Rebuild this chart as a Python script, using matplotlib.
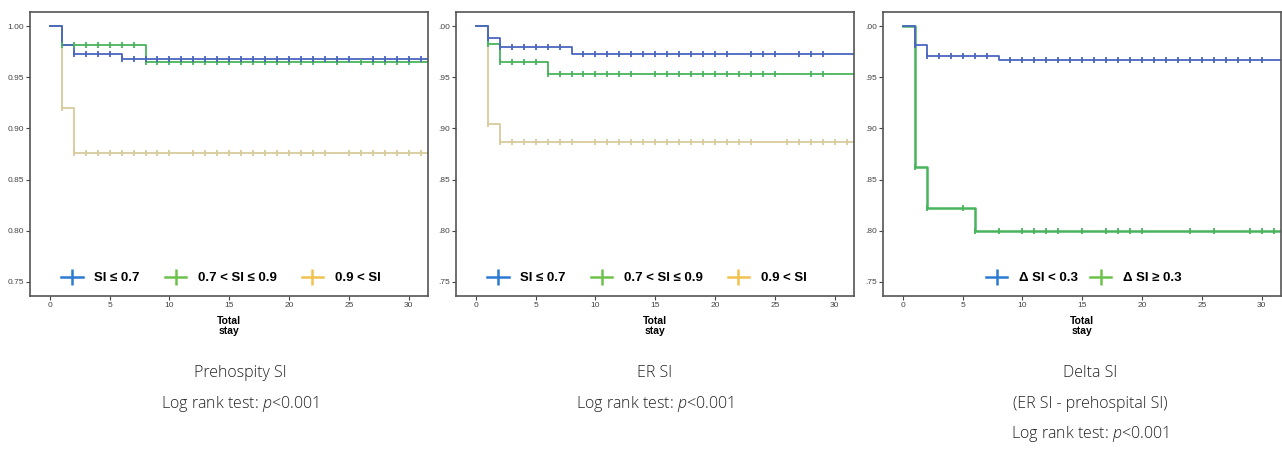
import matplotlib.pyplot as plt
from matplotlib.lines import Line2D

# ---- data ----
# step curves: times where the survival value changes, and the value from that time on
pre_times = {"low": [0, 1, 2, 6], "mid": [0, 1, 8], "high": [0, 1, 2]}
pre_surv = {"low": [1.0, 0.981, 0.9728, 0.968], "mid": [1.0, 0.981, 0.965], "high": [1.0, 0.920, 0.876]}
pre_cens = {
    "low": [2, 3, 4, 5, 6, 7, 8, 9, 10, 11, 12, 13, 14, 15, 16, 17, 18, 19, 20, 21, 22, 23, 24, 25, 27, 28, 29, 30, 31],
    "mid": [1, 2, 3, 4, 5, 6, 7, 8, 9, 10, 11, 12, 13, 14, 15, 16, 17, 18, 19, 20, 21, 22, 24, 26, 27, 28, 29, 30],
    "high": [1, 2, 3, 4, 5, 6, 7, 8, 9, 10, 12, 13, 14, 15, 16, 17, 18, 19, 20, 21, 22, 23, 25, 26, 27, 28, 29, 30, 31],
}

er_times = {"low": [0, 1, 2, 8], "mid": [0, 1, 2, 6], "high": [0, 1, 2]}
er_surv = {"low": [1.0, 0.9886, 0.980, 0.9728], "mid": [1.0, 0.9825, 0.9645, 0.953], "high": [1.0, 0.904, 0.887]}
er_cens = {
    "low": [1, 2, 3, 4, 5, 6, 7, 9, 10, 11, 12, 13, 14, 15, 16, 17, 18, 19, 20, 21, 23, 24, 25, 27, 28, 29],
    "mid": [1, 2, 3, 4, 5, 6, 7, 8, 9, 10, 11, 12, 13, 15, 16, 17, 18, 19, 20, 21, 22, 23, 24, 25, 28, 29],
    "high": [1, 2, 3, 4, 5, 6, 7, 8, 10, 11, 12, 13, 14, 15, 16, 17, 18, 19, 20, 21, 22, 23, 26, 27, 28, 29, 30, 31],
}

dl_times = {"low": [0, 1, 2, 8], "high": [0, 1, 2, 6]}
dl_surv = {"low": [1.0, 0.981, 0.971, 0.967], "high": [1.0, 0.862, 0.822, 0.800]}
dl_cens = {
    "low": [1, 2, 3, 4, 5, 6, 7, 9, 10, 11, 12, 13, 14, 15, 16, 17, 18, 19, 20, 21, 22, 23, 24, 25, 26, 27, 28, 29, 30],
    "high": [1, 2, 5, 6, 8, 10, 11, 12, 13, 15, 17, 18, 19, 20, 24, 26, 29, 30, 31],
}

labels_si = ["SI ≤ 0.7", "0.7 < SI ≤ 0.9", "0.9 < SI"]
labels_dl = ["Δ SI < 0.3", "Δ SI ≥ 0.3"]
yticks = [0.75, 0.80, 0.85, 0.90, 0.95, 1.00]
xticks = [0, 5, 10, 15, 20, 25, 30]
x_end = 31.6

line_col = {"low": "#4b66c0", "mid": "#48b45c", "high": "#d8cc9c"}
leg_col = {"low": "#2a7bd1", "mid": "#6cc24a", "high": "#f2c14e"}

captions = [
    ["Prehospity SI", "Log rank test: $\\it{p}$<0.001"],
    ["ER SI", "Log rank test: $\\it{p}$<0.001"],
    ["Delta SI", "(ER SI - prehospital SI)", "Log rank test: $\\it{p}$<0.001"],
]
cap_x = [240, 655, 1090]

plt.rcParams["font.family"] = ["Liberation Sans", "DejaVu Sans"]
plt.rcParams["mathtext.fontset"] = "custom"
plt.rcParams["mathtext.it"] = "Open Sans:italic:light"
plt.rcParams["mathtext.rm"] = "Open Sans:light"

fig = plt.figure(figsize=(12.82, 4.51), dpi=100)
lefts = [30, 456, 883]
width = 398


def km(ax, times, surv, cens, color, lw):
    t = times + [x_end]
    s = surv + [surv[-1]]
    ax.step(t, s, where="post", color=color, lw=lw, zorder=2)
    # censor marks sit on the curve value at that time
    for c in cens:
        v = surv[0]
        for tt, ss in zip(times, surv):
            if c >= tt:
                v = ss
        ax.plot([c], [v], marker="|", ms=4.5, mew=1.3, color=color, zorder=3)


panels = [
    (pre_times, pre_surv, pre_cens, ["low", "mid", "high"], labels_si, "{:.2f}"),
    (er_times, er_surv, er_cens, ["low", "mid", "high"], labels_si, "short"),
    (dl_times, dl_surv, dl_cens, ["low", "high"], labels_dl, "short"),
]

for i, (times, surv, cens, keys, labs, fmt) in enumerate(panels):
    ax = fig.add_axes([lefts[i] / 1282, 155 / 451, width / 1282, 284 / 451])
    # draw back to front so blue ends on top
    for k in reversed(keys):
        col = line_col[k]
        if i == 2 and k == "high":
            col = line_col["mid"]
        km(ax, times[k], surv[k], cens[k], col, 1.8 if (i == 2 and k == "high") else 1.3)
    ax.set_xlim(-1.65, x_end)
    ax.set_ylim(0.7363, 1.0137)
    ax.set_xticks(xticks)
    ax.set_yticks(yticks)
    if fmt == "short":
        ax.set_yticklabels([("{:.2f}".format(v))[1:] for v in yticks])
    else:
        ax.set_yticklabels(["{:.2f}".format(v) for v in yticks])
    ax.tick_params(labelsize=6, colors="#444444", length=3, width=0.8, pad=1.5)
    for sp in ax.spines.values():
        sp.set_color("#555555")
        sp.set_linewidth(1.2)
    ax.set_xlabel("Total\nstay", fontsize=7.5, fontweight="bold", linespacing=1.0, labelpad=5)

    handles = []
    for k in keys:
        c = leg_col["mid"] if (i == 2 and k == "high") else leg_col[k]
        handles.append(Line2D([], [], color=c, lw=1.8, marker="|", ms=12, mew=1.8))
    ax.legend(handles, labs, loc="lower center", bbox_to_anchor=(0.48 if i < 2 else 0.505, 0.0),
              ncol=len(keys), frameon=False, prop={"weight": "bold", "size": 9.5},
              handlelength=1.6, columnspacing=1.9 if i < 2 else 0.9, handletextpad=0.9)

    for j, line in enumerate(captions[i]):
        fig.text(cap_x[i] / 1282, 1 - (373 + 30.5 * j) / 451, line, ha="center", va="center",
                 fontsize=11.5, family=["Open Sans", "DejaVu Sans"], fontweight="light",
                 color="#222222")

fig.savefig("out.png", dpi=100)
